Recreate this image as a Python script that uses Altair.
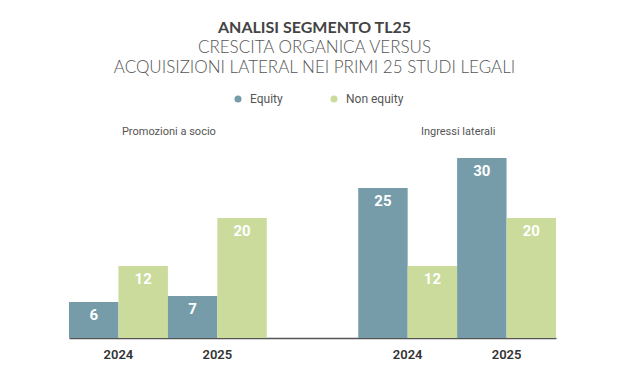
import altair as alt
import pandas as pd

groups = ["Promozioni a socio", "Ingressi laterali"]
years = ["2024", "2025"]
series = ["Equity", "Non equity"]
equity = [[6, 7], [25, 30]]
non_equity = [[12, 20], [12, 20]]
colors = ["#769CAA", "#CADB9C"]

group_offset = [0, 5.85]

rows = []
for gi, g in enumerate(groups):
    for yi, yr in enumerate(years):
        for si, s in enumerate(series):
            v = equity[gi][yi] if si == 0 else non_equity[gi][yi]
            x = group_offset[gi] + yi * 2 + si
            rows.append({"group": g, "year": yr, "series": s, "value": v,
                         "x": x, "x2": x + 1, "xc": x + 0.5})
df = pd.DataFrame(rows)

yr_rows = []
for gi, g in enumerate(groups):
    for yi, yr in enumerate(years):
        yr_rows.append({"year": yr, "xc": group_offset[gi] + yi * 2 + 1})
df_years = pd.DataFrame(yr_rows)

g_rows = [{"group": g, "xc": group_offset[gi] + 2} for gi, g in enumerate(groups)]
df_groups = pd.DataFrame(g_rows)

xscale = alt.Scale(domain=[0, 9.85], nice=False, zero=False)
yscale = alt.Scale(domain=[0, 30], nice=False)

bars = alt.Chart(df).mark_bar().encode(
    x=alt.X("x:Q", scale=xscale,
            axis=alt.Axis(labels=False, ticks=False, grid=False, title=None,
                          domainColor="#555555", domainWidth=1.5)),
    x2="x2:Q",
    y=alt.Y("value:Q", scale=yscale, axis=None),
    y2=alt.datum(0),
    color=alt.Color("series:N", scale=alt.Scale(domain=series, range=colors),
                    legend=alt.Legend(title=None, orient="none", direction="horizontal",
                                      legendX=163, legendY=-65,
                                      symbolType="circle", symbolSize=50,
                                      symbolStrokeWidth=0,
                                      labelFont="Roboto", labelFontSize=12,
                                      labelColor="#555555", columnPadding=45,
                                      labelOffset=6)),
)

labels = alt.Chart(df).mark_text(
    color="white", font="Roboto", fontSize=15, fontWeight="bold",
    baseline="middle", dy=13
).encode(
    x=alt.X("xc:Q", scale=xscale),
    y=alt.Y("value:Q", scale=yscale),
    text="value:Q",
)

year_text = alt.Chart(df_years).mark_text(
    font="Roboto", fontSize=13, fontWeight=600, color="#333333", baseline="middle"
).encode(
    x=alt.X("xc:Q", scale=xscale),
    y=alt.value(197),
    text="year:N",
)

group_text = alt.Chart(df_groups).mark_text(
    font="Roboto", fontSize=11, color="#555555", baseline="middle", dx=1
).encode(
    x=alt.X("xc:Q", scale=xscale),
    y=alt.value(-26),
    text="group:N",
)

chart = alt.layer(bars, labels, year_text, group_text).properties(
    width=487,
    height=180,
    background="white",
    autosize=alt.AutoSizeParams(type="none"),
    padding={"left": 61, "top": 150, "right": 66, "bottom": 38},
    title=alt.TitleParams(
        text="ANALISI SEGMENTO TL25",
        subtitle=["CRESCITA ORGANICA VERSUS", "ACQUISIZIONI LATERAL NEI PRIMI 25 STUDI LEGALI"],
        font="Lato", fontSize=16, fontWeight="bold", color="#444444",
        subtitleFont="Lato", subtitleFontSize=17, subtitleFontWeight=300,
        subtitleColor="#555555", subtitlePadding=4, subtitleLineHeight=20,
        anchor="middle", offset=17, dx=2,
    ),
).configure_view(stroke=None, strokeWidth=0)

chart.save("out.html", embed_options={"renderer": "svg", "actions": False})
